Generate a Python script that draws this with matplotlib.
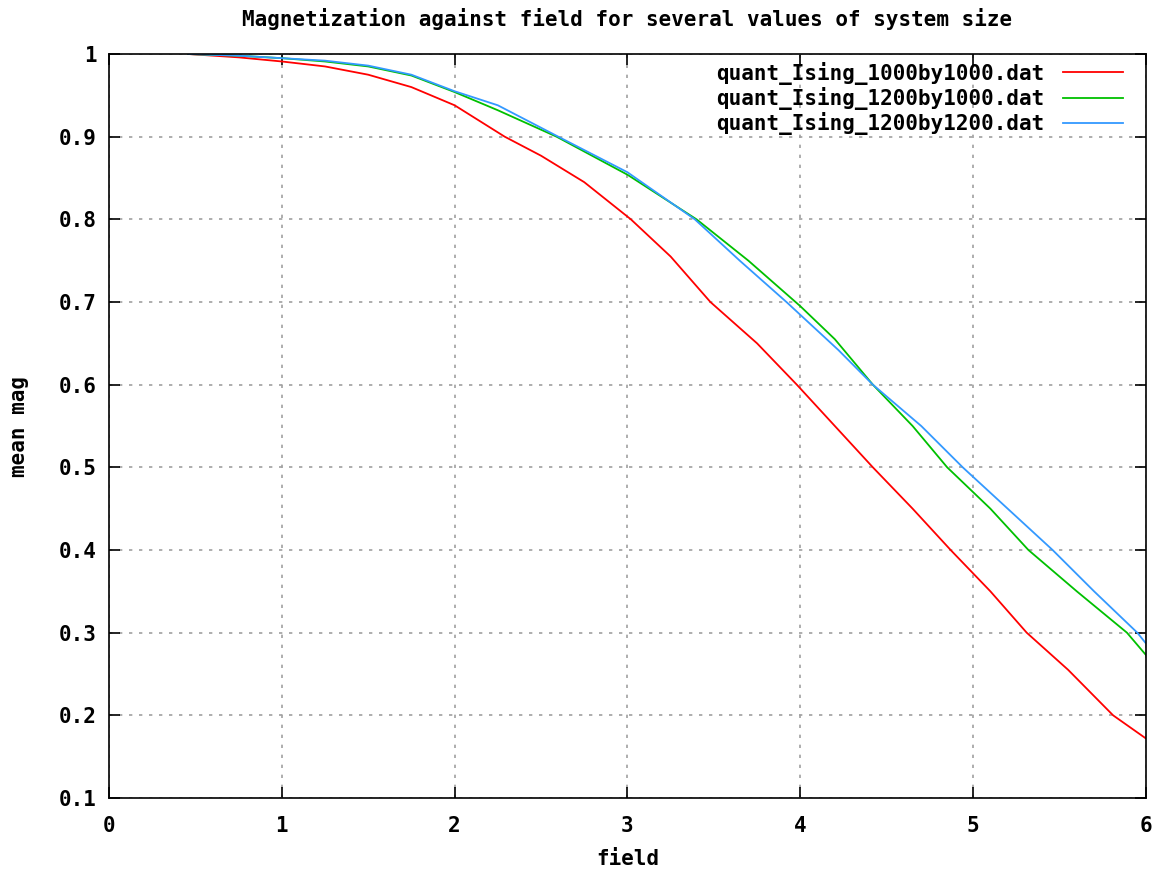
import matplotlib
matplotlib.use("Agg")
import matplotlib.pyplot as plt

# ── Data ─────────────────────────────────────────────────────────────────────
red_x = [0.46, 0.75, 1.0, 1.25, 1.5, 1.75, 2.0, 2.29, 2.5, 2.75, 3.02, 3.25,
         3.48, 3.75, 3.98, 4.2, 4.42, 4.65, 4.87, 5.1, 5.31, 5.55, 5.81, 6.0]
red_y = [1.0, 0.996, 0.991, 0.985, 0.975, 0.960, 0.938, 0.90, 0.877, 0.845, 0.80, 0.755,
         0.70, 0.65, 0.60, 0.55, 0.50, 0.45, 0.40, 0.35, 0.30, 0.255, 0.20, 0.172]

green_x = [0.46, 0.75, 1.0, 1.25, 1.5, 1.75, 2.0, 2.25, 2.59, 3.0, 3.4, 3.7,
           4.0, 4.2, 4.42, 4.65, 4.85, 5.1, 5.32, 5.6, 5.89, 6.0]
green_y = [1.0, 0.998, 0.995, 0.991, 0.985, 0.974, 0.954, 0.932, 0.90, 0.854, 0.80, 0.75,
           0.695, 0.655, 0.60, 0.55, 0.50, 0.45, 0.40, 0.35, 0.30, 0.273]

blue_x = [0.46, 0.75, 1.0, 1.25, 1.5, 1.75, 2.0, 2.25, 2.6, 3.0, 3.39, 3.65,
          3.92, 4.22, 4.42, 4.7, 4.94, 5.2, 5.46, 5.7, 5.95, 6.0]
blue_y = [1.0, 0.998, 0.995, 0.992, 0.986, 0.975, 0.955, 0.938, 0.90, 0.857, 0.80, 0.75,
          0.70, 0.642, 0.60, 0.55, 0.50, 0.45, 0.40, 0.35, 0.30, 0.287]

labels = ["quant_Ising_1000by1000.dat",
          "quant_Ising_1200by1000.dat",
          "quant_Ising_1200by1200.dat"]

x_ticks = [0, 1, 2, 3, 4, 5, 6]
y_ticks = [0.1, 0.2, 0.3, 0.4, 0.5, 0.6, 0.7, 0.8, 0.9, 1.0]
y_tick_labels = ["0.1", "0.2", "0.3", "0.4", "0.5", "0.6", "0.7", "0.8", "0.9", "1"]

# ── Style ────────────────────────────────────────────────────────────────────
FONT = {"family": "DejaVu Sans Mono", "weight": "bold"}
FS = 15

fig = plt.figure(figsize=(11.64, 8.73), dpi=100)
ax = fig.add_axes([0.0936, 0.0859, 0.8909, 0.8522])

ax.plot(red_x, red_y, color="#ff0000", lw=1.3, label=labels[0])
ax.plot(green_x, green_y, color="#00c000", lw=1.3, label=labels[1])
ax.plot(blue_x, blue_y, color="#3399ff", lw=1.3, label=labels[2])

ax.set_xlim(0, 6)
ax.set_ylim(0.1, 1.0)
ax.set_xticks(x_ticks)
ax.set_xticklabels([str(t) for t in x_ticks], fontdict=FONT, fontsize=FS)
ax.set_yticks(y_ticks)
ax.set_yticklabels(y_tick_labels, fontdict=FONT, fontsize=FS)
ax.tick_params(direction="in", length=8, width=1.2, top=True, right=True)
ax.tick_params(axis="x", pad=13)
ax.tick_params(axis="y", pad=9)

ax.grid(True, color="#a0a0a0", linestyle=(0, (2, 4)), lw=1.2)
for s in ax.spines.values():
    s.set_linewidth(1.2)

ax.set_title("Magnetization against field for several values of system size",
             fontdict=FONT, fontsize=FS, pad=20)
ax.set_xlabel("field", fontdict=FONT, fontsize=FS, labelpad=9)
ax.set_ylabel("mean mag", fontdict=FONT, fontsize=FS, labelpad=21)

leg = ax.legend(loc="upper right", frameon=False, markerfirst=False,
                prop={"family": "DejaVu Sans Mono", "weight": "bold", "size": FS},
                handlelength=2.9, handletextpad=0.9, labelspacing=0.1,
                borderaxespad=0.4, bbox_to_anchor=(0.994, 1.012))

fig.savefig("out.png", dpi=100, facecolor="white")
